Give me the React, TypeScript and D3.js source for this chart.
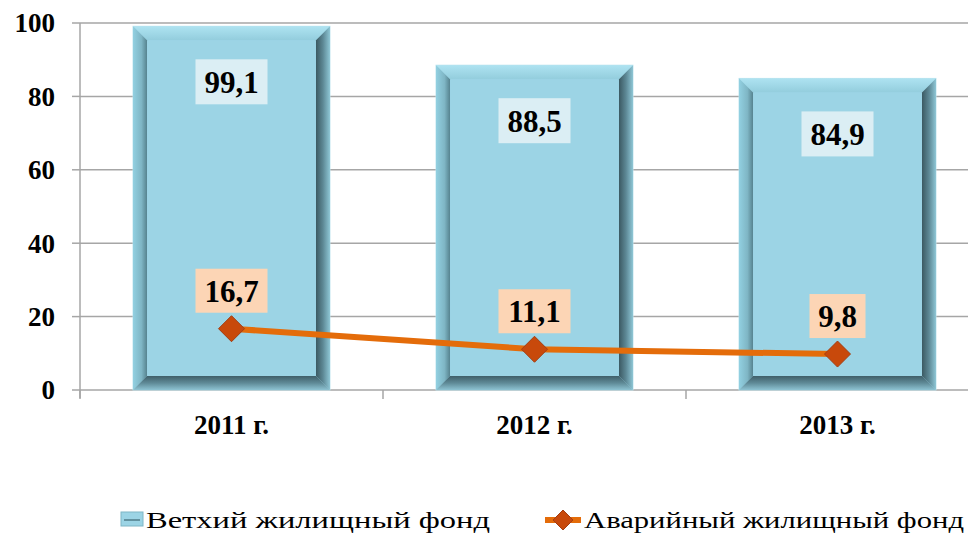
import React from "react";
import * as d3 from "d3";

const categories = ["2011 г.", "2012 г.", "2013 г."];
const oldHousing = [99.1, 88.5, 84.9];
const emergencyHousing = [16.7, 11.1, 9.8];
const yTicks = [0, 20, 40, 60, 80, 100];
const seriesNames = ["Ветхий жилищный фонд", "Аварийный жилищный фонд"];

const W = 968;
const H = 534;
const FONT = "'Liberation Serif', 'Times New Roman', serif";

export default function App() {
  const x = d3.scaleBand<string>().domain(categories).range([80, 989]).paddingInner(0.35).paddingOuter(0.175);
  const y = d3.scaleLinear().domain([0, 100]).range([390, 23]);
  const bw = x.bandwidth();
  const bev = 14;
  const fmt = (v: number) => v.toFixed(1).replace(".", ",");
  const line = d3
    .line<number>()
    .x((_, i) => (x(categories[i]) as number) + bw / 2)
    .y((d) => y(d));

  const diamond = (cx: number, cy: number, r: number) =>
    `M${cx},${cy - r}L${cx + r},${cy}L${cx},${cy + r}L${cx - r},${cy}Z`;

  return (
    <svg width={W} height={H} style={{ position: "absolute", left: 0, top: 0, background: "#fff" }}>
      <defs>
        <linearGradient id="gTop" x1="0" y1="0" x2="0" y2="1">
          <stop offset="0" stopColor="#aee3f1" />
          <stop offset="1" stopColor="#93cddd" />
        </linearGradient>
        <linearGradient id="gLeft" x1="0" y1="0" x2="1" y2="0">
          <stop offset="0" stopColor="#92d0e1" />
          <stop offset="0.6" stopColor="#7fb6c5" />
          <stop offset="1" stopColor="#56838f" />
        </linearGradient>
        <linearGradient id="gRight" x1="0" y1="0" x2="1" y2="0">
          <stop offset="0" stopColor="#3b5962" />
          <stop offset="0.5" stopColor="#5d8895" />
          <stop offset="1" stopColor="#8ec6d5" />
        </linearGradient>
        <linearGradient id="gBottom" x1="0" y1="0" x2="0" y2="1">
          <stop offset="0" stopColor="#3f5f69" />
          <stop offset="0.5" stopColor="#5f8a97" />
          <stop offset="1" stopColor="#8dc3d2" />
        </linearGradient>
      </defs>

      {/* gridlines */}
      {yTicks.map((t) => (
        <g key={t}>
          <line x1={80} x2={W} y1={y(t)} y2={y(t)} stroke="#a6a6a6" strokeWidth={1.5} />
          <line x1={72} x2={80} y1={y(t)} y2={y(t)} stroke="#a6a6a6" strokeWidth={1.5} />
          <text
            x={55}
            y={y(t)}
            dy="0.35em"
            textAnchor="end"
            fontFamily={FONT}
            fontWeight="bold"
            fontSize={27}
            fill="#000"
          >
            {t}
          </text>
        </g>
      ))}
      <line x1={80} x2={80} y1={y(100)} y2={398} stroke="#a6a6a6" strokeWidth={1.5} />
      {[0, 1, 2, 3].map((i) => {
        const xx = 80 + i * x.step();
        return <line key={i} x1={xx} x2={xx} y1={390} y2={399} stroke="#a6a6a6" strokeWidth={1.5} />;
      })}

      {/* bars */}
      {oldHousing.map((v, i) => {
        const x0 = x(categories[i]) as number;
        const x1 = x0 + bw;
        const y0 = y(v);
        const y1 = y(0);
        return (
          <g key={i}>
            <rect x={x0} y={y0} width={bw} height={y1 - y0} fill="#9cd4e5" stroke="#bde4ee" strokeWidth={1} />
            <polygon points={`${x0},${y0} ${x1},${y0} ${x1 - bev},${y0 + bev} ${x0 + bev},${y0 + bev}`} fill="url(#gTop)" />
            <polygon points={`${x0},${y0} ${x0 + bev},${y0 + bev} ${x0 + bev},${y1 - bev} ${x0},${y1}`} fill="url(#gLeft)" />
            <polygon points={`${x1},${y0} ${x1},${y1} ${x1 - bev},${y1 - bev} ${x1 - bev},${y0 + bev}`} fill="url(#gRight)" />
            <polygon points={`${x0},${y1} ${x0 + bev},${y1 - bev} ${x1 - bev},${y1 - bev} ${x1},${y1}`} fill="url(#gBottom)" />
            <rect x={x0 + bev} y={y0 + bev} width={bw - 2 * bev} height={y1 - y0 - 2 * bev} fill="#9cd4e5" />
            <rect x={x0 + bw / 2 - 36} y={y0 + 33} width={72} height={45} fill="#dbeef4" />
            <text
              x={x0 + bw / 2}
              y={y0 + 56}
              dy="0.35em"
              textAnchor="middle"
              fontFamily={FONT}
              fontWeight="bold"
              fontSize={31}
              fill="#000"
            >
              {fmt(v)}
            </text>
          </g>
        );
      })}

      {/* line */}
      <path d={line(emergencyHousing) || ""} fill="none" stroke="#e46c0a" strokeWidth={6} />
      {emergencyHousing.map((v, i) => {
        const cx = (x(categories[i]) as number) + bw / 2;
        const cy = y(v);
        const label = fmt(v);
        const boxW = label.length > 3 ? 72 : 56;
        return (
          <g key={i}>
            <path d={diamond(cx, cy, 13)} fill="#c8490b" stroke="#a33d12" strokeWidth={1} />
            <rect x={cx - boxW / 2} y={cy - 60} width={boxW} height={44} fill="#fcd5b5" />
            <text
              x={cx}
              y={cy - 38}
              dy="0.35em"
              textAnchor="middle"
              fontFamily={FONT}
              fontWeight="bold"
              fontSize={31}
              fill="#000"
            >
              {label}
            </text>
          </g>
        );
      })}

      {/* x labels */}
      {categories.map((c) => (
        <text
          key={c}
          x={(x(c) as number) + bw / 2}
          y={425}
          dy="0.35em"
          textAnchor="middle"
          fontFamily={FONT}
          fontWeight="bold"
          fontSize={27}
          fill="#000"
        >
          {c}
        </text>
      ))}

      {/* legend */}
      <g>
        <rect x={121} y={512} width={22} height={14} fill="#9cd4e5" stroke="#7fb6c5" strokeWidth={1} />
        <line x1={124} x2={140} y1={520} y2={520} stroke="#4f7d89" strokeWidth={1.5} />
        <text x={146} y={528} fontFamily={FONT} fontSize={24} fill="#000" textLength={344} lengthAdjust="spacingAndGlyphs">
          {seriesNames[0]}
        </text>
        <line x1={545} x2={581} y1={520} y2={520} stroke="#e46c0a" strokeWidth={6} />
        <path d={diamond(563, 520, 10)} fill="#c8490b" stroke="#a33d12" strokeWidth={1} />
        <text x={584} y={528} fontFamily={FONT} fontSize={24} fill="#000" textLength={380} lengthAdjust="spacingAndGlyphs">
          {seriesNames[1]}
        </text>
      </g>
    </svg>
  );
}
